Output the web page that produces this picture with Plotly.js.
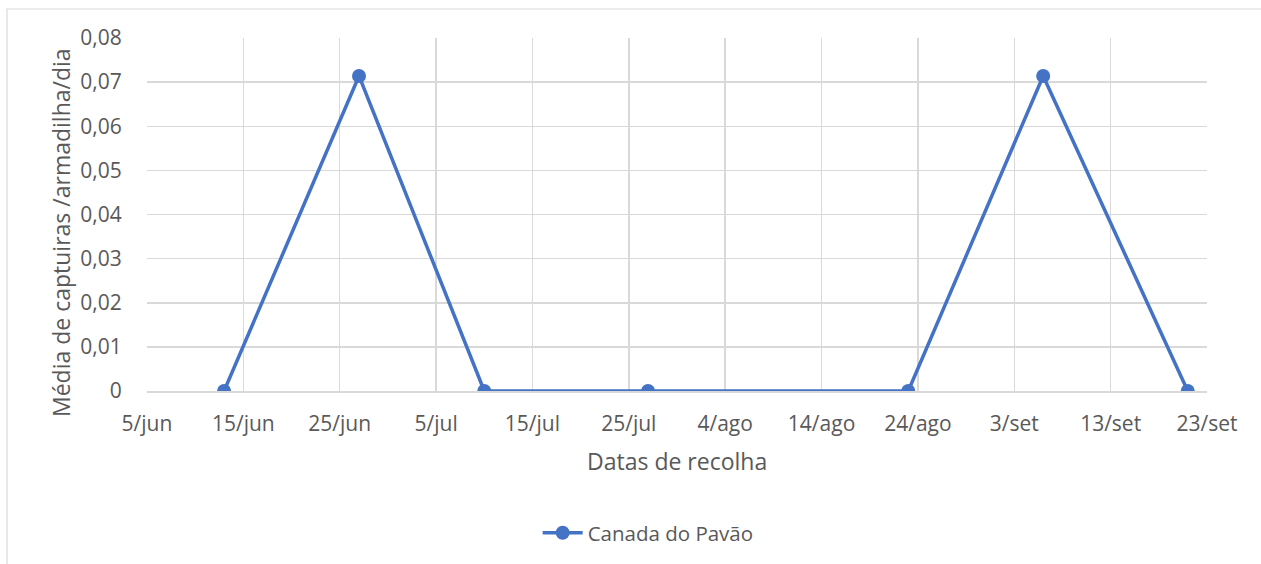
<!DOCTYPE html>
<html>
<head>
<meta charset="utf-8">
<script src="https://cdn.plot.ly/plotly-3.0.1.min.js"></script>
<style>html,body{margin:0;padding:0;background:#fff}#chart{width:1261px;height:564px}</style>
</head>
<body>
<div id="chart"></div>
<script>
var seriesName = "Canada do Pavão";
var dates = ["2019-06-13", "2019-06-27", "2019-07-10", "2019-07-27", "2019-08-23", "2019-09-06", "2019-09-21"];
var values = [0, 0.0714, 0, 0, 0, 0.0714, 0];
var xTickVals = ["2019-06-05", "2019-06-15", "2019-06-25", "2019-07-05", "2019-07-15", "2019-07-25", "2019-08-04", "2019-08-14", "2019-08-24", "2019-09-03", "2019-09-13", "2019-09-23"];
var xTickText = ["5/jun", "15/jun", "25/jun", "5/jul", "15/jul", "25/jul", "4/ago", "14/ago", "24/ago", "3/set", "13/set", "23/set"];
var yTickVals = [0, 0.01, 0.02, 0.03, 0.04, 0.05, 0.06, 0.07, 0.08];
var yTickText = ["0", "0,01", "0,02", "0,03", "0,04", "0,05", "0,06", "0,07", "0,08"];
var xTitle = "Datas de recolha";
var yTitle = "Média de captuiras /armadilha/dia";

var fontFam = "Open Sans, sans-serif";
var txt = "#595959";
var grid = "#d9d9d9";

var trace = {
  x: dates, y: values, type: "scatter", mode: "lines+markers", name: seriesName,
  line: {color: "#4472C4", width: 3.5},
  marker: {color: "#4472C4", size: 14}
};

var L = 147, R = 1207, T = 38, B = 391;
var W = 1261, H = 564;
function px(x){ return (x - L) / (R - L); }
function py(y){ return (B - y) / (B - T); }

var layout = {
  width: W, height: H,
  margin: {l: L, r: W - R, t: T, b: H - B, pad: 0},
  paper_bgcolor: "#fff", plot_bgcolor: "#fff",
  showlegend: true,
  font: {family: fontFam, color: txt, size: 21},
  xaxis: {
    type: "date",
    range: [xTickVals[0], xTickVals[xTickVals.length - 1]],
    tickmode: "array", tickvals: xTickVals, ticktext: xTickText,
    showgrid: true, gridcolor: grid, gridwidth: 1.5,
    showline: true, linecolor: grid, linewidth: 1.5,
    zeroline: false,
    ticks: "outside", ticklen: 13, tickcolor: "rgba(0,0,0,0)",
    tickfont: {family: fontFam, color: txt, size: 21},
    fixedrange: true
  },
  yaxis: {
    range: [0, 0.08],
    tickmode: "array", tickvals: yTickVals, ticktext: yTickText,
    showgrid: true, gridcolor: grid, gridwidth: 1.5,
    showline: false, zeroline: false,
    ticks: "outside", ticklen: 20, tickcolor: "rgba(0,0,0,0)",
    tickfont: {family: fontFam, color: txt, size: 21},
    fixedrange: true
  },
  annotations: [
    {text: yTitle, xref: "paper", yref: "paper", x: px(61), y: py(233),
     xanchor: "center", yanchor: "middle", textangle: -90, showarrow: false,
     font: {family: fontFam, color: txt, size: 23}},
    {text: xTitle, xref: "paper", yref: "paper", x: px(677), y: py(461),
     xanchor: "center", yanchor: "middle", showarrow: false,
     font: {family: fontFam, color: txt, size: 23}}
  ],
  legend: {
    orientation: "h", xref: "container", yref: "container",
    x: 0.514, xanchor: "center", y: 0.055, yanchor: "middle",
    font: {family: fontFam, color: txt, size: 20.5},
    itemwidth: 40
  },
  shapes: [{
    type: "rect", xref: "paper", yref: "paper",
    x0: px(7), x1: px(1265), y0: py(568), y1: py(9),
    line: {color: grid, width: 1.2}, fillcolor: "rgba(0,0,0,0)", layer: "below"
  }]
};

Plotly.newPlot("chart", [trace], layout, {displayModeBar: false, staticPlot: true});
</script>
</body>
</html>
